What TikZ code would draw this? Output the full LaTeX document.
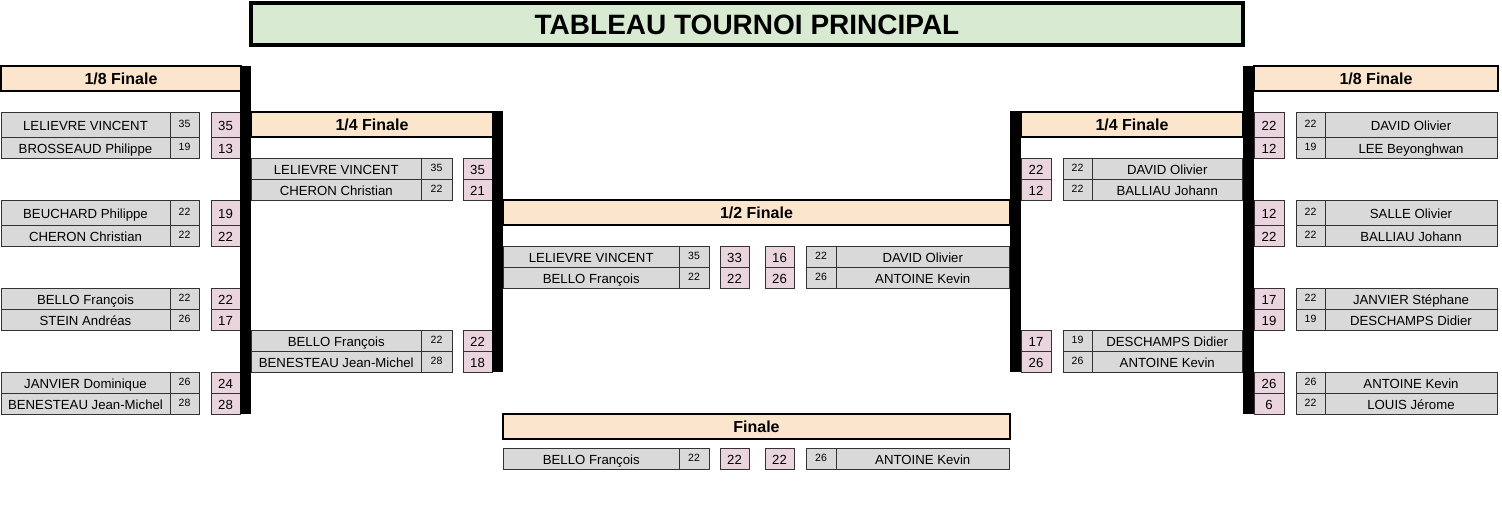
\documentclass[tikz,border=0pt]{standalone}
\usepackage{fontspec}
\setmainfont{Liberation Sans}
\definecolor{cgray}{HTML}{D9D9D9}
\definecolor{cpink}{HTML}{EAD5DF}
\definecolor{corange}{HTML}{FCE5CD}
\definecolor{cgreen}{HTML}{D9EAD3}
\tikzset{
  cellbase/.style={draw=black!80, line width=0.8pt, inner sep=0pt, outer sep=0pt},
  namecell/.style={cellbase, fill=cgray, font=\fontsize{13.2}{15}\selectfont, text height=12pt, text depth=0pt},
  seedcell/.style={cellbase, fill=cgray, font=\fontsize{10.5}{12}\selectfont, text height=7.6pt, text depth=2pt},
  scorecell/.style={cellbase, fill=cpink, font=\fontsize{13.2}{15}\selectfont, text height=12pt, text depth=0pt},
  roundhead/.style={draw=black, line width=2.5pt, fill=corange, inner sep=0pt, outer sep=0pt, font=\bfseries\fontsize{16}{18}\selectfont, text height=12pt, text depth=0pt},
  titlebox/.style={draw=black, line width=3.5pt, fill=cgreen, inner sep=0pt, outer sep=0pt, font=\bfseries\fontsize{28}{30}\selectfont, text height=20.5pt, text depth=0pt},
  barbox/.style={fill=black, draw=none, inner sep=0pt, outer sep=0pt}
}
% name, style, x1, y1, x2, y2, text
\newcommand\cellat[7]{%
  \pgfmathsetmacro\cellW{#5-#3}\pgfmathsetmacro\cellH{#6-#4}%
  \node[#2, minimum width=\cellW pt, minimum height=\cellH pt] (#1) at ({(#3+#5)/2},{(#4+#6)/2}) {#7};}
% left-type row: id, y1, y2, name, seed, score
\newcommand\lrow[6]{%
  \cellat{#1n}{namecell}{\xa}{#2}{\xb}{#3}{#4}%
  \cellat{#1s}{seedcell}{\xb}{#2}{\xc}{#3}{#5}%
  \cellat{#1p}{scorecell}{\xd}{#2}{\xe}{#3}{#6}}
% right-type row: id, y1, y2, score, seed, name
\newcommand\rrow[6]{%
  \cellat{#1p}{scorecell}{\ra}{#2}{\rb}{#3}{#4}%
  \cellat{#1s}{seedcell}{\rc}{#2}{\rd}{#3}{#5}%
  \cellat{#1n}{namecell}{\rd}{#2}{\re}{#3}{#6}}
\begin{document}
\begin{tikzpicture}[x=1pt,y=-1pt]
\useasboundingbox (0,0) rectangle (1502,530);
% title
\cellat{title}{titlebox}{251}{3}{1243}{45}{TABLEAU TOURNOI PRINCIPAL}
% headers
\cellat{hLeight}{roundhead}{1}{66}{241}{91}{1/8 Finale}
\cellat{hLquart}{roundhead}{251}{112}{493}{137}{1/4 Finale}
\cellat{hsemi}{roundhead}{503}{200}{1010}{225}{1/2 Finale}
\cellat{hfinal}{roundhead}{503}{414}{1010}{439}{Finale}
\cellat{hRquart}{roundhead}{1021}{112}{1243}{137}{1/4 Finale}
\cellat{hReight}{roundhead}{1254}{66}{1498}{91}{1/8 Finale}
% left 1/8
\def\xa{1}\def\xb{170}\def\xc{199}\def\xd{211}\def\xe{240}
\lrow{la1}{112}{137}{LELIEVRE VINCENT}{35}{35}
\lrow{la2}{137}{158}{BROSSEAUD Philippe}{19}{13}
\lrow{lb1}{200}{225}{BEUCHARD Philippe}{22}{19}
\lrow{lb2}{225}{246}{CHERON Christian}{22}{22}
\lrow{lc1}{288}{309}{BELLO François}{22}{22}
\lrow{lc2}{309}{330}{STEIN Andréas}{26}{17}
\lrow{ld1}{372}{393}{JANVIER Dominique}{26}{24}
\lrow{ld2}{393}{414}{BENESTEAU Jean-Michel}{28}{28}
% left 1/4
\def\xa{251.5}\def\xb{421}\def\xc{452}\def\xd{463}\def\xe{492}
\lrow{lqa1}{158}{179}{LELIEVRE VINCENT}{35}{35}
\lrow{lqa2}{179}{200}{CHERON Christian}{22}{21}
\lrow{lqb1}{330}{351}{BELLO François}{22}{22}
\lrow{lqb2}{351}{372}{BENESTEAU Jean-Michel}{28}{18}
% semi final
\def\xa{503.5}\def\xb{679}\def\xc{709}\def\xd{720}\def\xe{749}
\def\ra{765}\def\rb{794}\def\rc{806}\def\rd{836}\def\re{1009.5}
\lrow{sl1}{246}{267}{LELIEVRE VINCENT}{35}{33}
\lrow{sl2}{267}{288}{BELLO François}{22}{22}
\rrow{sr1}{246}{267}{16}{22}{DAVID Olivier}
\rrow{sr2}{267}{288}{26}{26}{ANTOINE Kevin}
% final
\lrow{fl}{448}{469}{BELLO François}{22}{22}
\rrow{fr}{448}{469}{22}{26}{ANTOINE Kevin}
% right 1/4
\def\ra{1021}\def\rb{1051}\def\rc{1063}\def\rd{1092}\def\re{1242.5}
\rrow{rqa1}{158}{179}{22}{22}{DAVID Olivier}
\rrow{rqa2}{179}{200}{12}{22}{BALLIAU Johann}
\rrow{rqb1}{330}{351}{17}{19}{DESCHAMPS Didier}
\rrow{rqb2}{351}{372}{26}{26}{ANTOINE Kevin}
% right 1/8
\def\ra{1254}\def\rb{1284}\def\rc{1296}\def\rd{1325}\def\re{1497}
\rrow{ra1}{112}{137}{22}{22}{DAVID Olivier}
\rrow{ra2}{137}{158}{12}{19}{LEE Beyonghwan}
\rrow{rb1}{200}{225}{12}{22}{SALLE Olivier}
\rrow{rb2}{225}{246}{22}{22}{BALLIAU Johann}
\rrow{rc1}{288}{309}{17}{22}{JANVIER Stéphane}
\rrow{rc2}{309}{330}{19}{19}{DESCHAMPS Didier}
\rrow{rd1}{372}{393}{26}{26}{ANTOINE Kevin}
\rrow{rd2}{393}{414}{6}{22}{LOUIS Jérome}
% bars
\cellat{barL8}{barbox}{240}{66}{251}{414}{}
\cellat{barL4}{barbox}{492}{111}{503}{372}{}
\cellat{barR4}{barbox}{1010}{111}{1021}{372}{}
\cellat{barR8}{barbox}{1243}{66}{1254}{414}{}
\end{tikzpicture}
\end{document}
